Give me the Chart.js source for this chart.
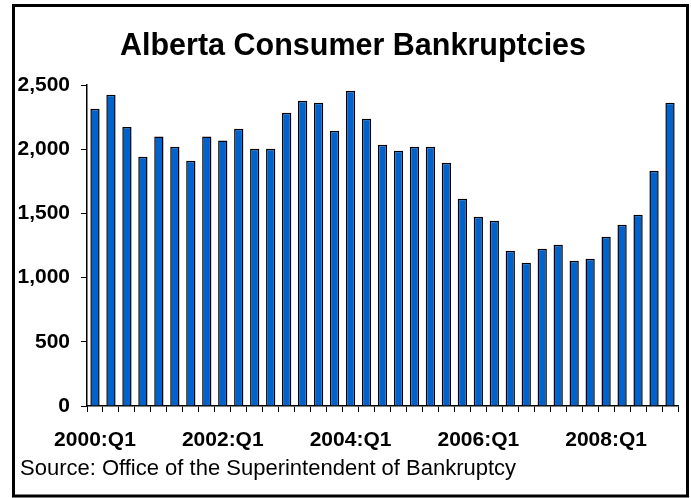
<!DOCTYPE html>
<html>
<head>
<meta charset="utf-8">
<script src="https://cdn.jsdelivr.net/npm/chart.js@4/dist/chart.umd.min.js"></script>
<style>
  html, body { margin: 0; padding: 0; background: #ffffff; }
  #wrap { width: 691px; height: 498px; position: relative; }
</style>
</head>
<body>
<div id="wrap"><canvas id="c" width="691" height="498"></canvas></div>
<script>
// ---- data ----
const years = [2000, 2001, 2002, 2003, 2004, 2005, 2006, 2007, 2008, 2009];
const quarters = ['Q1', 'Q2', 'Q3', 'Q4'];
const categories = [];
years.forEach(y => quarters.forEach(q => categories.push(y + ':' + q)));
categories.length = 37; // 2000:Q1 .. 2009:Q1

const bankruptcies = [
  2315, 2425, 2173, 1942,
  2098, 2020, 1911, 2098,
  2067, 2160, 2004, 2004,
  2284, 2378, 2362, 2144,
  2456, 2238, 2035, 1988,
  2020, 2020, 1895, 1615,
  1474, 1443, 1210, 1116,
  1225, 1256, 1132, 1147,
  1319, 1412, 1490, 1833,
  2362
];
const shownTickLabels = ['2000:Q1', '2002:Q1', '2004:Q1', '2006:Q1', '2008:Q1'];
const yTicks = [0, 500, 1000, 1500, 2000, 2500];

const titleText = 'Alberta Consumer Bankruptcies';
const sourceText = 'Source: Office of the Superintendent of Bankruptcy';

const FONT = "'Liberation Sans', Arial, sans-serif";

const framePlugin = {
  id: 'frameTitleSource',
  afterDraw(chart) {
    const ctx = chart.ctx;
    ctx.save();
    ctx.strokeStyle = '#000';
    ctx.lineWidth = 3;
    ctx.strokeRect(13.5, 5.5, 674, 490.5);
    ctx.fillStyle = '#000';
    // title
    ctx.font = "bold 30.5px " + FONT;
    ctx.textAlign = 'center';
    ctx.textBaseline = 'alphabetic';
    ctx.fillText(titleText, 353, 55);
    // source
    ctx.font = "22px " + FONT;
    ctx.textAlign = 'left';
    ctx.fillText(sourceText, 20, 475);
    ctx.restore();
  }
};

new Chart(document.getElementById('c'), {
  type: 'bar',
  data: {
    labels: categories,
    datasets: [{
      data: bankruptcies,
      backgroundColor: '#0062CC',
      borderColor: '#000000',
      borderWidth: 1.5,
      barPercentage: 0.58,
      categoryPercentage: 1.0
    }]
  },
  options: {
    responsive: false,
    devicePixelRatio: 1,
    animation: false,
    layout: { padding: { left: 0, right: 13, top: 85, bottom: 0 } },
    plugins: {
      legend: { display: false },
      tooltip: { enabled: false },
      title: { display: false }
    },
    scales: {
      x: {
        offset: true,
        grid: {
          offset: true,
          drawOnChartArea: false,
          drawTicks: true,
          tickLength: 6,
          color: '#000',
          lineWidth: 1
        },
        border: { display: true, color: '#000', width: 1.5 },
        ticks: {
          autoSkip: false,
          maxRotation: 0,
          minRotation: 0,
          padding: 16,
          color: '#000',
          font: { family: FONT, size: 21, weight: 'bold' },
          callback: function(value, index) {
            const lab = categories[index];
            return shownTickLabels.includes(lab) ? lab : '';
          }
        },
        afterFit(axis) { axis.height = 92; }
      },
      y: {
        min: 0,
        max: 2500,
        afterBuildTicks(axis) { axis.ticks = yTicks.map(v => ({ value: v })); },
        grid: {
          drawOnChartArea: false,
          drawTicks: true,
          tickLength: 6,
          color: '#000',
          lineWidth: 1
        },
        border: { display: true, color: '#000', width: 1.5 },
        ticks: {
          padding: 11,
          color: '#000',
          font: { family: FONT, size: 21, weight: 'bold' },
          callback: v => v.toLocaleString('en-US')
        },
        afterFit(axis) { axis.width = 87; }
      }
    }
  },
  plugins: [framePlugin]
});
</script>
</body>
</html>
